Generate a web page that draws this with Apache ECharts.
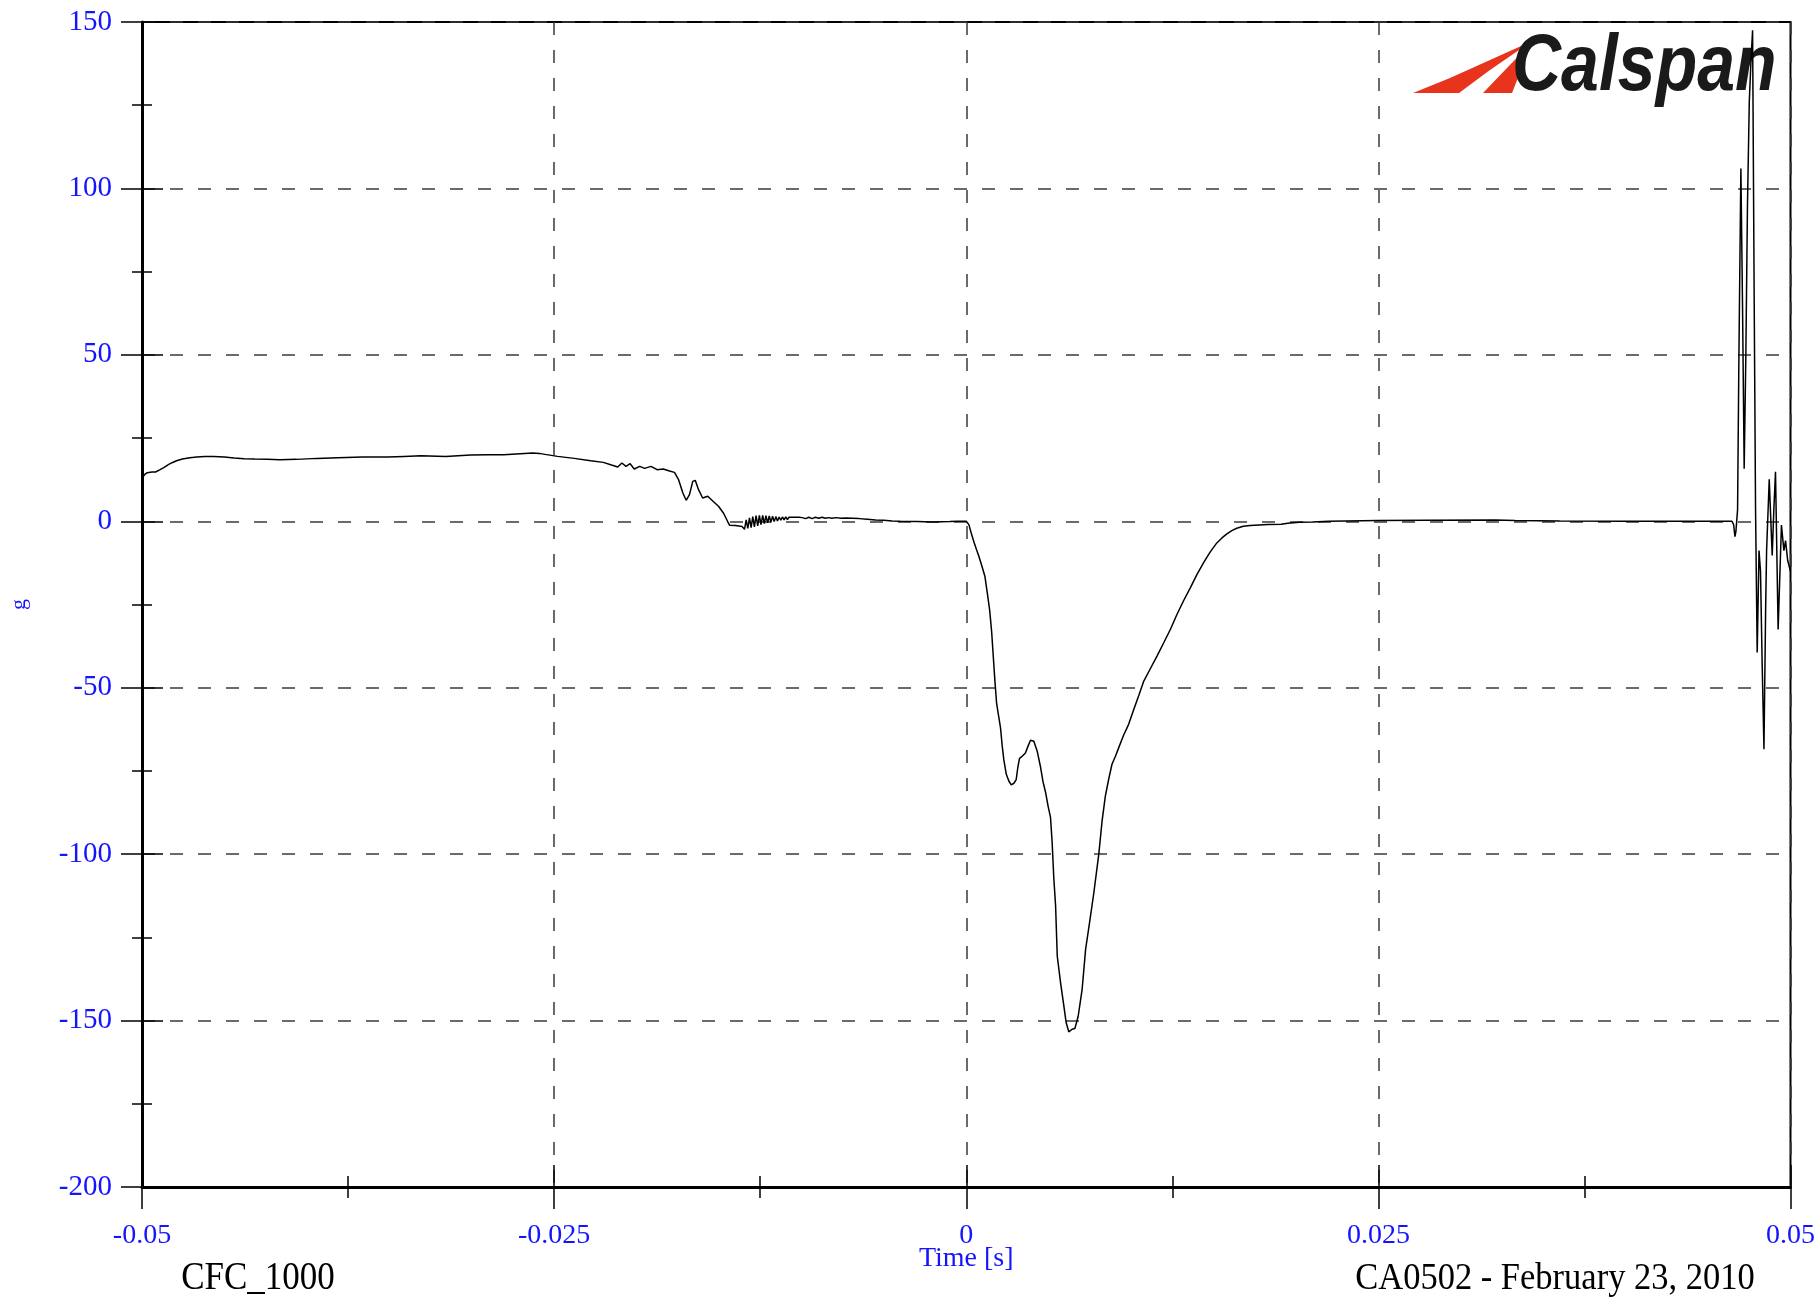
<!DOCTYPE html>
<html>
<head>
<meta charset="utf-8">
<script src="https://cdn.jsdelivr.net/npm/echarts@6/dist/echarts.min.js"></script>
<style>
html,body{margin:0;padding:0;background:#fff;}
#chart{width:1818px;height:1298px;}
</style>
</head>
<body>
<div id="chart"></div>
<script>
// time in milliseconds
const timeMs = [
-50.00,-49.85,-49.68,-49.40,-49.18,-48.90,-48.68,-48.40,-48.18,-47.90,-47.55,-47.10,-46.67,-46.20,-45.66,-45.00,-44.41,-43.80,-43.15,-42.40,
-41.64,-40.63,-39.38,-38.12,-36.61,-35.10,-34.10,-33.08,-31.58,-30.07,-29.00,-28.06,-27.05,-26.30,-25.90,-25.55,-24.79,-23.78,-22.78,-22.02,
-21.52,-21.14,-20.89,-20.64,-20.39,-20.14,-19.81,-19.51,-19.13,-18.75,-18.38,-18.00,-17.70,-17.45,-17.19,-16.99,-16.79,-16.59,-16.44,-16.24,
-15.99,-15.68,-15.36,-15.03,-14.73,-14.48,-14.35,-14.00,-13.60,-13.45,-13.35,-13.25,-13.15,-13.05,-12.95,-12.85,-12.75,-12.65,-12.55,-12.45,
-12.35,-12.25,-12.15,-12.05,-11.95,-11.85,-11.75,-11.65,-11.55,-11.45,-11.35,-11.25,-11.15,-11.05,-10.95,-10.85,-10.75,-10.65,-10.55,-10.45,
-10.35,-10.25,-10.15,-10.05,-9.95,-9.75,-9.55,-9.35,-9.15,-8.95,-8.75,-8.55,-8.35,-8.15,-7.90,-7.60,-7.30,-6.90,-6.50,-6.00,
-5.50,-5.00,-4.50,-4.00,-3.00,-2.00,-1.00,-0.50,0.00,0.10,0.16,0.30,0.47,0.62,0.77,0.97,1.13,1.27,1.42,1.54,
1.64,1.74,1.84,1.94,2.08,2.18,2.28,2.43,2.59,2.73,2.89,3.03,3.13,3.23,3.39,3.59,3.76,3.90,4.00,4.10,
4.30,4.51,4.65,4.81,4.97,5.11,5.21,5.31,5.42,5.52,5.72,5.92,6.06,6.22,6.42,6.59,6.79,7.03,7.24,7.48,
7.74,8.04,8.24,8.44,8.64,8.84,9.05,9.25,9.55,9.85,10.15,10.46,10.76,11.07,11.57,11.98,12.38,12.78,13.19,13.59,
13.99,14.39,14.80,15.20,15.51,15.81,16.11,16.41,16.81,17.22,18.30,19.10,19.50,20.20,21.00,22.00,25.00,28.00,32.10,33.30,
36.00,40.00,46.45,46.55,46.63,46.69,46.79,46.87,46.99,47.09,47.19,47.29,47.39,47.50,47.60,47.70,47.80,47.88,47.98,48.09,
48.18,48.28,48.39,48.49,48.55,48.71,48.89,48.99,49.09,49.25,49.45,49.60,49.70,49.83,50.00
];
// acceleration in g
const accelG = [
13.0,14.0,14.6,14.8,14.8,15.5,16.1,17.0,17.6,18.2,18.7,19.1,19.3,19.5,19.5,19.3,19.0,18.8,18.7,18.6,
18.5,18.6,18.9,19.1,19.3,19.3,19.5,19.7,19.5,19.9,20.0,20.0,20.3,20.5,20.4,20.1,19.5,18.9,18.2,17.7,
16.9,16.3,17.5,16.5,17.3,15.7,16.5,15.9,16.5,15.5,15.7,15.1,14.7,12.5,8.5,6.3,8.0,12.0,12.3,9.5,
7.0,7.5,6.0,4.5,2.5,0.0,-1.2,-1.3,-1.6,-2.4,0.4,-2.1,1.0,-1.9,1.4,-1.7,1.7,-1.4,1.8,-1.0,
1.8,-0.7,1.7,-0.5,1.6,-0.3,1.5,-0.1,1.4,0.1,1.3,0.3,1.3,0.4,1.3,0.5,1.2,0.6,1.2,0.7,
1.2,0.8,1.2,0.8,1.1,0.8,1.2,0.8,1.2,0.9,1.2,0.9,1.1,0.9,1.1,0.9,1.0,0.9,0.8,0.6,
0.4,0.3,0.1,0.0,-0.1,-0.2,-0.1,0.0,0.0,-0.3,-1.0,-3.5,-6.3,-8.5,-10.6,-13.8,-16.5,-21.3,-26.7,-33.1,
-40.6,-48.1,-54.6,-57.8,-62.1,-67.4,-71.7,-76.0,-78.1,-79.2,-78.7,-77.6,-73.9,-71.2,-70.6,-69.6,-67.4,-65.8,-65.3,-66.1,
-69.0,-73.9,-78.1,-81.4,-85.7,-88.9,-96.4,-107.1,-115.6,-130.6,-138.6,-145.6,-150.6,-153.4,-152.6,-152.4,-148.7,-140.6,-128.6,-120.6,
-111.6,-100.0,-90.0,-82.5,-77.5,-73.0,-70.6,-68.0,-64.2,-61.0,-56.7,-52.4,-48.1,-45.2,-40.5,-36.5,-32.5,-28.0,-23.8,-20.0,
-16.0,-12.5,-9.2,-6.5,-5.0,-3.8,-2.8,-2.1,-1.5,-1.3,-1.0,-0.9,-0.6,-0.3,-0.2,0.0,0.2,0.3,0.4,0.2,
0.1,0.0,0.0,-1.0,-4.6,-3.0,3.5,49.4,106.0,64.7,15.8,49.4,95.0,126.0,138.0,147.5,64.7,3.5,-39.4,-8.8,
-15.0,-42.5,-68.5,-27.0,-8.8,12.6,-10.3,3.5,14.9,-32.5,-1.1,-8.8,-5.8,-11.8,-15.0
];
const xTickLabels = ['-0.05','-0.025','0','0.025','0.05'];
const yTickLabels = ['-200','-150','-100','-50','0','50','100','150'];
const xAxisTitle = 'Time [s]';
const yAxisTitle = 'g';
const leftNote = 'CFC_1000';
const rightNote = 'CA0502 - February 23, 2010';
const logoText = 'Calspan';

const seriesData = timeMs.map((t, i) => [t / 1000, accelG[i]]);

const blue = '#1414ff';
const serif = '"Liberation Serif", "Times New Roman", serif';

function xLab(v, i) { return xTickLabels[i] !== undefined ? xTickLabels[i] : String(v); }
function yLab(v, i) { return yTickLabels[i] !== undefined ? yTickLabels[i] : String(v); }

const gridDash = { color: '#3a3a3a', width: 1.5, type: [13, 15] };

const chart = echarts.init(document.getElementById('chart'), null, { renderer: 'canvas' });
chart.setOption({
  animation: false,
  backgroundColor: '#fff',
  grid: { left: 141, right: 27, top: 22, bottom: 111, show: true, borderColor: '#000', borderWidth: 2, backgroundColor: 'transparent' },
  xAxis: [
    {
      type: 'value', min: -0.05, max: 0.05, interval: 0.025, position: 'bottom',
      axisLine: { show: true, onZero: false, lineStyle: { color: '#000', width: 3 } },
      axisTick: { show: true, inside: false, length: 22, lineStyle: { color: '#000', width: 1.5 } },
      minorTick: { show: true, splitNumber: 2, length: 11, lineStyle: { color: '#000', width: 1.5 } },
      axisLabel: { show: true, color: blue, fontFamily: serif, fontSize: 28, margin: 35, formatter: xLab, showMinLabel: true, showMaxLabel: true },
      splitLine: { show: true, lineStyle: gridDash },
      name: xAxisTitle, nameLocation: 'middle', nameGap: 58, nameMoveOverlap: false,
      nameTextStyle: { color: blue, fontFamily: serif, fontSize: 28 }
    },
    {
      type: 'value', min: -0.05, max: 0.05, interval: 0.025, position: 'bottom',
      axisLine: { show: false, onZero: false },
      axisTick: { show: true, inside: true, length: 22, lineStyle: { color: '#000', width: 1.5 } },
      minorTick: { show: true, splitNumber: 2, length: 11, lineStyle: { color: '#000', width: 1.5 } },
      axisLabel: { show: false },
      splitLine: { show: false }
    }
  ],
  yAxis: [
    {
      type: 'value', min: -200, max: 150, interval: 50, position: 'left',
      axisLine: { show: true, onZero: false, lineStyle: { color: '#000', width: 3 } },
      axisTick: { show: true, inside: false, length: 21, lineStyle: { color: '#000', width: 1.5 } },
      minorTick: { show: true, splitNumber: 2, length: 10, lineStyle: { color: '#000', width: 1.5 } },
      axisLabel: { show: true, color: blue, fontFamily: serif, fontSize: 29, margin: 30, formatter: yLab, showMinLabel: true, showMaxLabel: true },
      splitLine: { show: true, lineStyle: gridDash },
      name: yAxisTitle, nameLocation: 'middle', nameGap: 112, nameMoveOverlap: false,
      nameTextStyle: { color: blue, fontFamily: serif, fontSize: 22 }
    },
    {
      type: 'value', min: -200, max: 150, interval: 50, position: 'left',
      axisLine: { show: false, onZero: false },
      axisTick: { show: true, inside: true, length: 21, lineStyle: { color: '#000', width: 1.5 } },
      minorTick: { show: true, splitNumber: 2, length: 10, lineStyle: { color: '#000', width: 1.5 } },
      axisLabel: { show: false },
      splitLine: { show: false }
    }
  ],
  graphic: [
    {
      type: 'polygon', z: 1,
      shape: { points: [[1413, 93], [1450, 78], [1490, 60], [1530, 42], [1522, 48], [1490, 70], [1459, 93]] },
      style: { fill: '#e8341c' }
    },
    {
      type: 'polygon', z: 1,
      shape: { points: [[1483, 93], [1532, 42], [1512, 93]] },
      style: { fill: '#e8341c' }
    },
    {
      type: 'text', z: 1, x: 1512, y: 68, scaleX: 0.85,
      style: { text: logoText, fill: '#1a1a1a', font: 'italic bold 80px "Liberation Sans", Arial, sans-serif', textAlign: 'left', verticalAlign: 'middle' }
    },
    {
      type: 'text', x: 258, y: 1279, scaleY: 1.12,
      style: { text: leftNote, fill: '#000', font: '35px ' + serif, textAlign: 'center', verticalAlign: 'middle' }
    },
    {
      type: 'text', x: 1555, y: 1279, scaleY: 1.12,
      style: { text: rightNote, fill: '#000', font: '34.5px ' + serif, textAlign: 'center', verticalAlign: 'middle' }
    }
  ],
  series: [
    {
      type: 'line', xAxisIndex: 0, yAxisIndex: 0,
      data: seriesData, showSymbol: false, symbol: 'none', smooth: false, clip: true,
      lineStyle: { color: '#000', width: 1.5 },
      z: 3
    }
  ]
});
</script>
</body>
</html>
